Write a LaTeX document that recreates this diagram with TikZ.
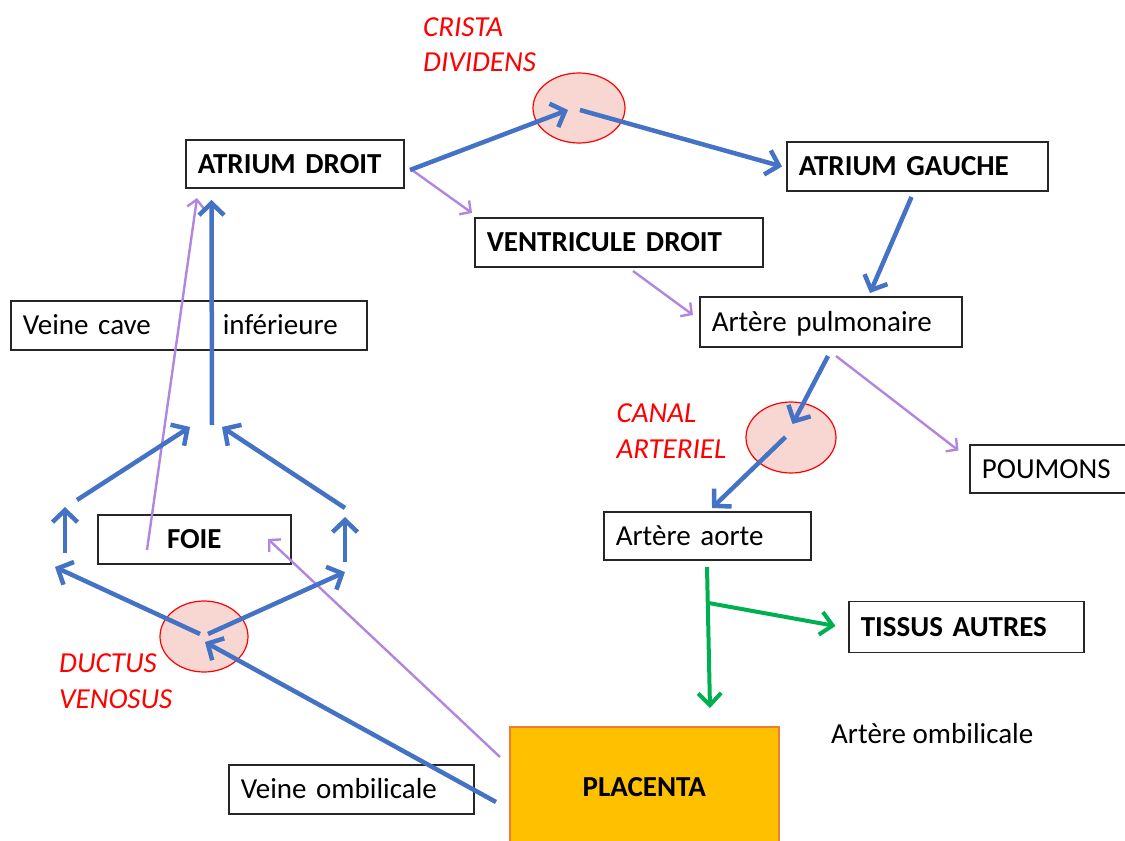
\documentclass[tikz,border=0pt]{standalone}
\usepackage{fontspec}
\setmainfont{Carlito}
\usetikzlibrary{arrows.meta}
\definecolor{bl}{HTML}{4472C4}
\definecolor{pu}{RGB}{178,134,222}
\definecolor{gr}{HTML}{00B050}
\definecolor{bx}{HTML}{262626}
\definecolor{pk}{RGB}{248,215,210}
\definecolor{pl}{HTML}{FFC000}
\definecolor{plb}{HTML}{ED7D31}
\begin{document}
\begin{tikzpicture}[x=1pt,y=-1pt,
  font=\fontsize{29}{35.5}\selectfont,
  box/.style={draw=bx,line width=1.6pt,anchor=west,inner xsep=12pt,inner ysep=0pt,
    align=left,text height=22pt,text depth=4pt},
  lab/.style={text=red,font=\fontsize{29}{35.5}\selectfont\itshape,align=left,
    anchor=base west,inner sep=0pt},
  blue arrow/.style={draw=bl,line width=4.5pt,-{Straight Barb[length=12pt,width=25pt]}},
  purple arrow/.style={draw=pu,line width=2.4pt,-{Straight Barb[length=8pt,width=17pt]}},
  green arrow/.style={draw=gr,line width=4pt,-{Straight Barb[length=12pt,width=23pt]}}
]
\path[use as bounding box] (0,0) rectangle (1125,841);
\clip (0,0) rectangle (1125,841);

% zones (ellipses)
\fill[pk] (579,108) ellipse [x radius=46, y radius=35];
\draw[red,line width=1.2pt] (579,108) ellipse [x radius=46, y radius=35];
\fill[pk] (791,437.5) ellipse [x radius=45, y radius=35.5];
\draw[red,line width=1.2pt] (791,437.5) ellipse [x radius=45, y radius=35.5];
\fill[pk] (204,636.5) ellipse [x radius=44, y radius=35.5];
\draw[red,line width=1.2pt] (204,636.5) ellipse [x radius=44, y radius=35.5];

% boxes
\node[box,text width=194pt,minimum height=48pt] (ad) at (185,164) {\textbf{ATRIUM DROIT}};
\node[box,text width=237pt,minimum height=49pt] (ag) at (786,166.5) {\textbf{ATRIUM GAUCHE}};
\node[box,text width=264pt,minimum height=49pt] (vd) at (474,242.5) {\textbf{VENTRICULE DROIT}};
\node[box,text width=238pt,minimum height=50pt] (ap) at (699,322) {Artère pulmonaire};
\node[box,text width=134pt,minimum height=48pt] (pm) at (969,469) {POUMONS};
\node[box,text width=183pt,minimum height=48pt] (ao) at (603,536) {Artère aorte};
\node[box,text width=211pt,minimum height=51pt] (ta) at (848,627) {\textbf{TISSUS AUTRES}};
\node[box,text width=332pt,minimum height=49pt] (vc) at (10,325.5)
  {\makebox[200pt][l]{Veine cave}inférieure};
\node[box,text width=169pt,minimum height=49pt,align=center] (fo) at (97,539.5) {\textbf{FOIE}};
\node[box,text width=221pt,minimum height=49pt] (vo) at (228,789.5) {Veine ombilicale};
\node[draw=plb,fill=pl,line width=1.5pt,anchor=north west,minimum width=269pt,
  minimum height=150pt,inner sep=0pt,text height=20pt,text depth=30pt] (pc) at (509,726)
  {\textbf{PLACENTA}};
\node[anchor=base west,inner sep=0pt] (ao2) at (831,743) {Artère ombilicale};

% red labels (anchor on the baseline of the last line)
\node[lab] (cd) at (423,71.7) {CRISTA\\DIVIDENS};
\node[lab] (ca) at (616.5,458) {CANAL\\ARTERIEL};
\node[lab] (dv) at (59,708.3) {DUCTUS\\VENOSUS};

% connector end points
\coordinate (a1s) at (410,170);   \coordinate (a1e) at (568,110);
\coordinate (a2s) at (580,110);   \coordinate (a2e) at (782,166.5);
\coordinate (a3s) at (911.5,197); \coordinate (a3e) at (870,293);
\coordinate (a4s) at (828,356);   \coordinate (a4e) at (792.5,424);
\coordinate (a5s) at (785.5,437); \coordinate (a5e) at (712,508);
\coordinate (b1s) at (212,425);   \coordinate (b1e) at (211.5,200);
\coordinate (b2s) at (77,500);    \coordinate (b2e) at (190,427);
\coordinate (b3s) at (345,508);   \coordinate (b3e) at (222,427);
\coordinate (b4s) at (65,553);    \coordinate (b4e) at (65,507);
\coordinate (b5s) at (345,562);   \coordinate (b5e) at (345,517);
\coordinate (b6s) at (200,634);   \coordinate (b6e) at (55,567);
\coordinate (b7s) at (208,634);   \coordinate (b7e) at (345,572);
\coordinate (b8s) at (496,802);   \coordinate (b8e) at (205,642);
\coordinate (p1s) at (412,170);   \coordinate (p1e) at (472,213);
\coordinate (p2s) at (633,271);   \coordinate (p2e) at (693,315);
\coordinate (p3s) at (836,356);   \coordinate (p3e) at (958.5,450.5);
\coordinate (p4s) at (147,550);   \coordinate (p4e) at (197,198);
\coordinate (p5s) at (500,757);   \coordinate (p5e) at (268,539);
\coordinate (g1s) at (707,567);   \coordinate (g1e) at (710,708);
\coordinate (g2s) at (708.5,603); \coordinate (g2e) at (835.5,626);

% purple arrows
\draw[purple arrow] (p1s) -- (p1e);
\draw[purple arrow] (p2s) -- (p2e);
\draw[purple arrow] (p3s) -- (p3e);
\draw[purple arrow] (p4s) -- (p4e);
\draw[purple arrow] (p5s) -- (p5e);

% blue arrows
\draw[blue arrow] (a1s) -- (a1e);
\draw[blue arrow] (a2s) -- (a2e);
\draw[blue arrow] (a3s) -- (a3e);
\draw[blue arrow] (a4s) -- (a4e);
\draw[blue arrow] (a5s) -- (a5e);
\draw[blue arrow] (b1s) -- (b1e);
\draw[blue arrow] (b2s) -- (b2e);
\draw[blue arrow] (b3s) -- (b3e);
\draw[blue arrow] (b4s) -- (b4e);
\draw[blue arrow] (b5s) -- (b5e);
\draw[blue arrow] (b6s) -- (b6e);
\draw[blue arrow] (b7s) -- (b7e);
\draw[blue arrow] (b8s) -- (b8e);

% green arrows
\draw[green arrow] (g1s) -- (g1e);
\draw[green arrow] (g2s) -- (g2e);
\end{tikzpicture}
\end{document}
